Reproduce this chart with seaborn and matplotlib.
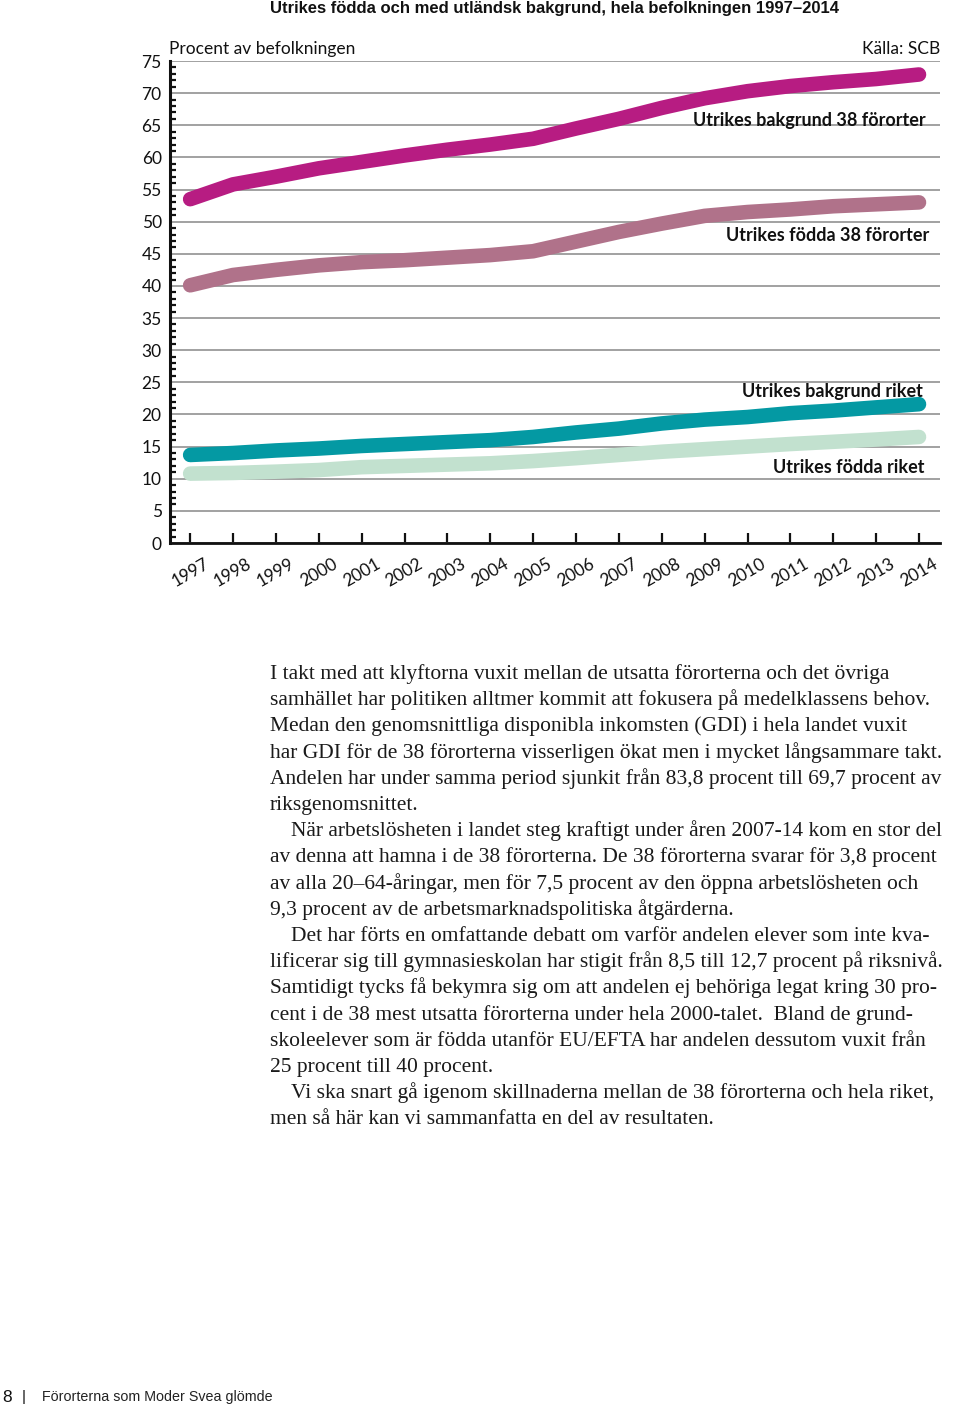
import matplotlib
matplotlib.use("Agg")
import matplotlib.pyplot as plt
import seaborn as sns
import pandas as pd
from matplotlib.ticker import MultipleLocator

# ---------------- data ----------------
years = list(range(1997, 2015))
bakgrund_38 = [53.5, 55.8, 57.0, 58.3, 59.3, 60.3, 61.2, 62.0, 62.9, 64.5,
               66.0, 67.7, 69.2, 70.3, 71.1, 71.7, 72.2, 72.9]
fodda_38 = [40.1, 41.7, 42.5, 43.2, 43.7, 44.0, 44.4, 44.8, 45.4, 46.9,
            48.4, 49.7, 50.9, 51.5, 51.9, 52.4, 52.7, 53.0]
bakgrund_riket = [13.7, 14.0, 14.4, 14.7, 15.1, 15.4, 15.7, 16.0, 16.5, 17.2,
                  17.8, 18.6, 19.2, 19.6, 20.2, 20.6, 21.1, 21.6]
fodda_riket = [10.8, 10.9, 11.1, 11.35, 11.8, 12.0, 12.2, 12.4, 12.75, 13.2,
               13.7, 14.2, 14.6, 15.0, 15.4, 15.75, 16.1, 16.5]
series_names = ["Utrikes bakgrund 38 förorter", "Utrikes födda 38 förorter",
                "Utrikes bakgrund riket", "Utrikes födda riket"]
series_colors = ["#B71C82", "#B0728A", "#0499A3", "#C2E1CF"]
label_pos = [(2014.16, 65.8), (2014.23, 47.8), (2014.09, 23.5), (2014.14, 11.8)]

title = "Utrikes födda och med utländsk bakgrund, hela befolkningen 1997–2014"
ylabel_text = "Procent av befolkningen"
source_text = "Källa: SCB"

paragraph_lines = [
    (False, "I takt med att klyftorna vuxit mellan de utsatta förorterna och det övriga"),
    (False, "samhället har politiken alltmer kommit att fokusera på medelklassens behov."),
    (False, "Medan den genomsnittliga disponibla inkomsten (GDI) i hela landet vuxit"),
    (False, "har GDI för de 38 förorterna visserligen ökat men i mycket långsammare takt."),
    (False, "Andelen har under samma period sjunkit från 83,8 procent till 69,7 procent av"),
    (False, "riksgenomsnittet."),
    (True, "När arbetslösheten i landet steg kraftigt under åren 2007-14 kom en stor del"),
    (False, "av denna att hamna i de 38 förorterna. De 38 förorterna svarar för 3,8 procent"),
    (False, "av alla 20–64-åringar, men för 7,5 procent av den öppna arbetslösheten och"),
    (False, "9,3 procent av de arbetsmarknadspolitiska åtgärderna."),
    (True, "Det har förts en omfattande debatt om varför andelen elever som inte kva-"),
    (False, "lificerar sig till gymnasieskolan har stigit från 8,5 till 12,7 procent på riksnivå."),
    (False, "Samtidigt tycks få bekymra sig om att andelen ej behöriga legat kring 30 pro-"),
    (False, "cent i de 38 mest utsatta förorterna under hela 2000-talet.  Bland de grund-"),
    (False, "skoleelever som är födda utanför EU/EFTA har andelen dessutom vuxit från"),
    (False, "25 procent till 40 procent."),
    (True, "Vi ska snart gå igenom skillnaderna mellan de 38 förorterna och hela riket,"),
    (False, "men så här kan vi sammanfatta en del av resultaten."),
]
footer_page = "8"
footer_text = "Förorterna som Moder Svea glömde"

# ---------------- figure ----------------
sns.set_theme(style="white")
plt.rcParams['font.family'] = ['Lato', 'DejaVu Sans']

W, H = 960, 1406
fig = plt.figure(figsize=(W / 100, H / 100), dpi=100)

def fx(px):
    return px / W

def fy(py):
    return 1 - py / H

ax_l, ax_r, ax_t, ax_b = 170, 940, 61, 543
ax = fig.add_axes([fx(ax_l), fy(ax_b), (ax_r - ax_l) / W, (ax_b - ax_t) / H])

df = pd.DataFrame({
    "year": years * 4,
    "value": bakgrund_38 + fodda_38 + bakgrund_riket + fodda_riket,
    "series": sum([[n] * len(years) for n in series_names], []),
})

sns.lineplot(data=df, x="year", y="value", hue="series", hue_order=series_names,
             palette=series_colors, linewidth=10.5, legend=False, ax=ax,
             solid_capstyle="round", zorder=3)

ax.set_xlim(1996.53, 2014.49)
ax.set_ylim(0, 75)
ax.yaxis.set_major_locator(MultipleLocator(5))
ax.yaxis.set_minor_locator(MultipleLocator(1))
ax.set_xticks(years)
ax.set_xticklabels([str(y) for y in years], rotation=30, ha="center",
                   fontsize=12.5, color="#111111")
ax.set_yticks(range(0, 80, 5))
ax.set_yticklabels([str(v) for v in range(0, 80, 5)], fontsize=12.5, color="#111111")
ax.set_xlabel("")
ax.set_ylabel("")

ax.grid(axis="y", which="major", color="#9a9a9a", linewidth=1.3, zorder=1)
ax.grid(axis="x", visible=False)

for s in ["top", "right"]:
    ax.spines[s].set_visible(False)
ax.spines["left"].set_color("#111111")
ax.spines["left"].set_linewidth(2.2)
ax.spines["bottom"].set_color("#111111")
ax.spines["bottom"].set_linewidth(2.0)

ax.tick_params(axis="y", which="major", direction="in", length=8, width=2.0,
               color="#111111", pad=6)
ax.tick_params(axis="y", which="minor", direction="in", length=4.5, width=1.6,
               color="#111111", left=True)
ax.tick_params(axis="x", which="major", direction="in", length=7, width=1.6,
               color="#111111", pad=9, bottom=True)
ax.tick_params(axis="x", which="minor", bottom=False)

for name, color, (lx, ly) in zip(series_names, series_colors, label_pos):
    ax.text(lx, ly, name, ha="right", va="center", fontsize=13,
            fontweight="bold", color="#111111", zorder=5)

fig.text(fx(554), fy(9), title, ha="center", va="center", fontsize=12,
         fontweight="bold", color="#111111",
         family=["Liberation Sans Narrow", "Liberation Sans", "DejaVu Sans"])
fig.text(fx(169), fy(49), ylabel_text, ha="left", va="center", fontsize=12.5,
         color="#111111")
fig.text(fx(940), fy(49), source_text, ha="right", va="center", fontsize=12.5,
         color="#111111")

# paragraph
line_y0, line_dy = 672, 26.2
for i, (indent, line) in enumerate(paragraph_lines):
    x0 = 291 if indent else 270
    fig.text(fx(x0), fy(line_y0 + i * line_dy + 7), line, ha="left",
             va="baseline", fontsize=15.5, color="#1a1a1a",
             family=["Liberation Serif", "DejaVu Serif"])

# footer
fig.text(fx(2), fy(1397), footer_page, ha="left", va="center", fontsize=12.5,
         color="#111111", family=["Liberation Sans", "DejaVu Sans"])
fig.text(fx(22), fy(1397), "|", ha="left", va="center", fontsize=11,
         color="#111111", family=["Liberation Sans", "DejaVu Sans"])
fig.text(fx(42), fy(1397), footer_text, ha="left", va="center", fontsize=10.3,
         color="#222222", family=["Liberation Sans", "DejaVu Sans"])

fig.savefig("out.png", dpi=100, facecolor="white")
